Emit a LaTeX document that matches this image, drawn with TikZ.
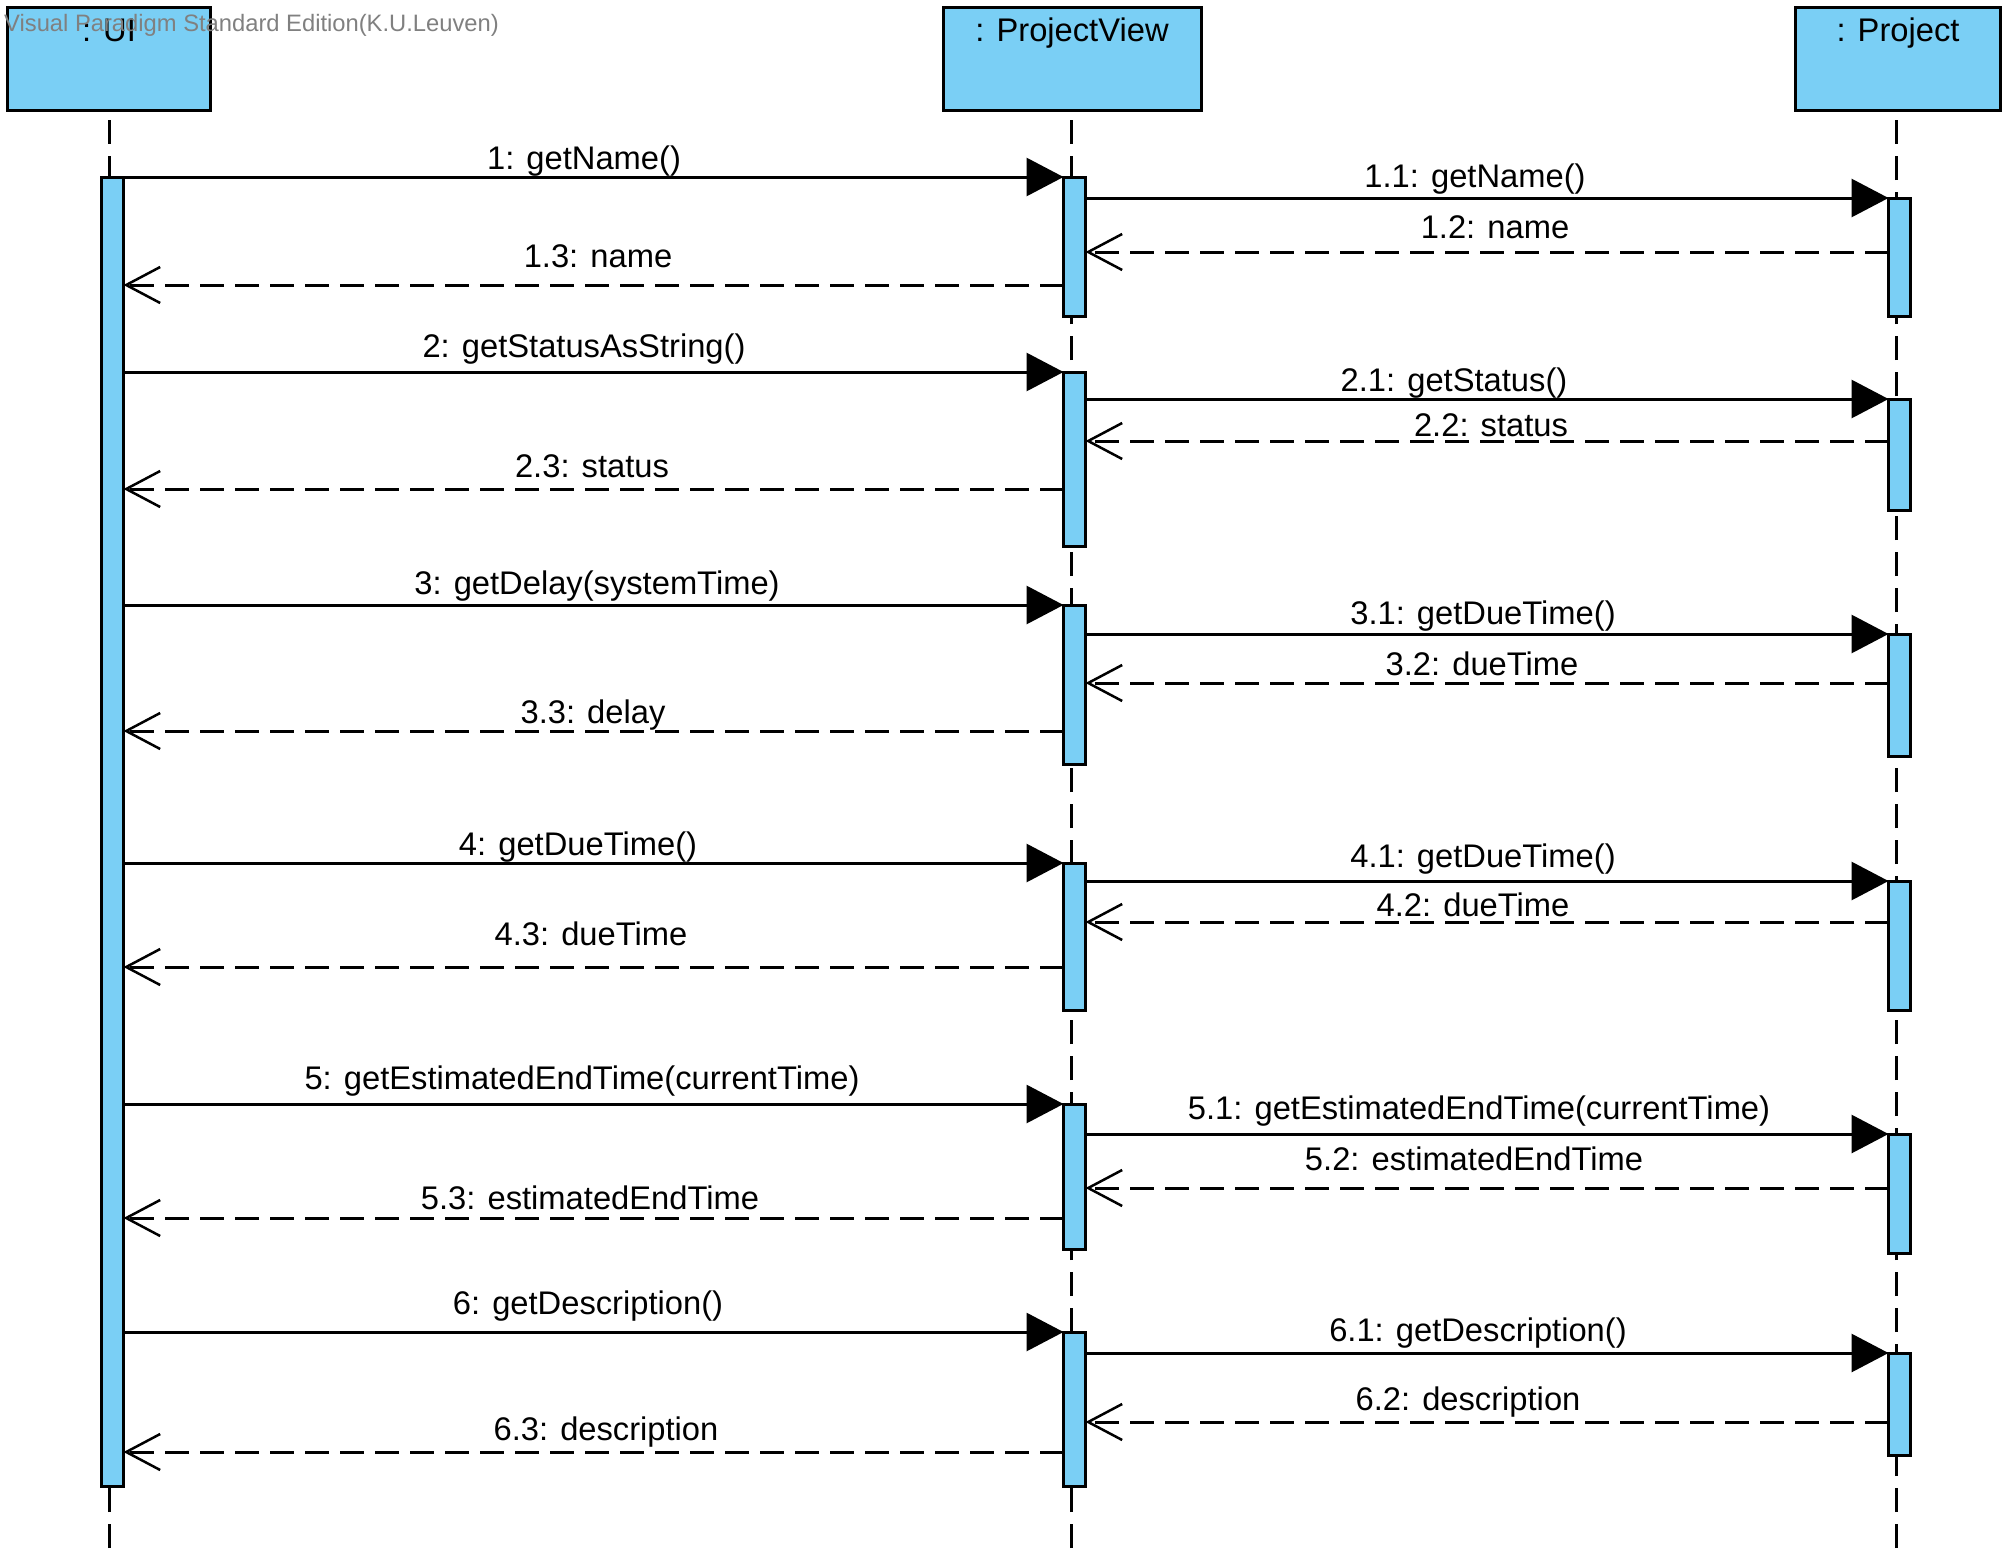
\documentclass[tikz,border=0pt]{standalone}
\usepackage{fontspec}
\setmainfont{Liberation Sans}
\usetikzlibrary{arrows.meta}
\definecolor{actfill}{RGB}{122,207,245}
\definecolor{wmgray}{RGB}{128,128,128}
% activation bar: name, lifeline x, top y, bottom y
\newcommand\actbar[4]{\node[actbox,minimum height=#4-#3] (#1) at (#2-7.5,#3) {};}
\begin{document}
\begin{tikzpicture}[x=1pt,y=-1pt,
  font=\fontsize{32.7}{39}\selectfont,
  headbox/.style={draw=black,line width=3pt,fill=actfill,inner sep=0pt,outer sep=0pt,anchor=north west},
  actbox/.style={draw=black,line width=3pt,fill=actfill,inner sep=0pt,outer sep=0pt,anchor=north west,minimum width=22pt},
  lifeline/.style={line width=3pt,dash pattern=on 24pt off 12pt},
  call/.style={line width=3pt,-{Triangle[length=37pt,width=38pt]}},
  reply/.style={line width=3pt,dash pattern=on 24pt off 11pt,-{Straight Barb[length=34pt,width=36pt,line width=2.5pt]}},
  msglabel/.style={anchor=base,inner sep=0pt},
  headlabel/.style={anchor=base,inner sep=0pt}]
\useasboundingbox (0,0) rectangle (2016,1560);

% object heads
\node[headbox,minimum width=203pt,minimum height=103pt] (hui) at (7.5,7.5) {};
\node[headbox,minimum width=258pt,minimum height=103pt] (hpv) at (943.5,7.5) {};
\node[headbox,minimum width=205pt,minimum height=103pt] (hpj) at (1795.5,7.5) {};
\node[headlabel] (tui) at (109,42) {: UI};
\node[headlabel] (tpv) at (1072,42) {: ProjectView};
\node[headlabel] (tpj) at (1898,42) {: Project};

% lifelines (drawn upwards so a dash closes each one at the bottom)
\coordinate (uiend) at (109,1548);
\coordinate (pvend) at (1071,1548);
\coordinate (pjend) at (1896,1548);
\draw[lifeline] (uiend) -- (hui.south -| uiend);
\draw[lifeline] (pvend) -- (hpv.south -| pvend);
\draw[lifeline] (pjend) -- (hpj.south -| pjend);

% activation bars
\actbar{ua}{109}{177}{1486.5}
\actbar{pv1}{1071}{177}{316.5}
\actbar{pv2}{1071}{372}{546.5}
\actbar{pv3}{1071}{605}{764.5}
\actbar{pv4}{1071}{863}{1010.5}
\actbar{pv5}{1071}{1104}{1249.5}
\actbar{pv6}{1071}{1332}{1486.5}
\actbar{pj1}{1896}{198}{316.5}
\actbar{pj2}{1896}{399}{510.5}
\actbar{pj3}{1896}{634}{756.5}
\actbar{pj4}{1896}{881}{1010.5}
\actbar{pj5}{1896}{1134}{1253.5}
\actbar{pj6}{1896}{1353}{1455.5}

% reply levels
\coordinate (r12) at (0,252);  \coordinate (r13) at (0,285);
\coordinate (r22) at (0,441);  \coordinate (r23) at (0,489);
\coordinate (r32) at (0,683);  \coordinate (r33) at (0,731);
\coordinate (r42) at (0,922);  \coordinate (r43) at (0,967);
\coordinate (r52) at (0,1188); \coordinate (r53) at (0,1218);
\coordinate (r62) at (0,1422); \coordinate (r63) at (0,1452);

% 1
\draw[call] (ua.east |- pv1.north) -- (pv1.north west);
\draw[call] (pv1.east |- pj1.north) -- (pj1.north west);
\draw[reply] (pj1.west |- r12) -- (pv1.east |- r12);
\draw[reply] (pv1.west |- r13) -- (ua.east |- r13);
% 2
\draw[call] (ua.east |- pv2.north) -- (pv2.north west);
\draw[call] (pv2.east |- pj2.north) -- (pj2.north west);
\draw[reply] (pj2.west |- r22) -- (pv2.east |- r22);
\draw[reply] (pv2.west |- r23) -- (ua.east |- r23);
% 3
\draw[call] (ua.east |- pv3.north) -- (pv3.north west);
\draw[call] (pv3.east |- pj3.north) -- (pj3.north west);
\draw[reply] (pj3.west |- r32) -- (pv3.east |- r32);
\draw[reply] (pv3.west |- r33) -- (ua.east |- r33);
% 4
\draw[call] (ua.east |- pv4.north) -- (pv4.north west);
\draw[call] (pv4.east |- pj4.north) -- (pj4.north west);
\draw[reply] (pj4.west |- r42) -- (pv4.east |- r42);
\draw[reply] (pv4.west |- r43) -- (ua.east |- r43);
% 5
\draw[call] (ua.east |- pv5.north) -- (pv5.north west);
\draw[call] (pv5.east |- pj5.north) -- (pj5.north west);
\draw[reply] (pj5.west |- r52) -- (pv5.east |- r52);
\draw[reply] (pv5.west |- r53) -- (ua.east |- r53);
% 6
\draw[call] (ua.east |- pv6.north) -- (pv6.north west);
\draw[call] (pv6.east |- pj6.north) -- (pj6.north west);
\draw[reply] (pj6.west |- r62) -- (pv6.east |- r62);
\draw[reply] (pv6.west |- r63) -- (ua.east |- r63);

% message labels
\node[msglabel] (l1)  at (584,169)  {1: getName()};
\node[msglabel] (l11) at (1475,187) {1.1: getName()};
\node[msglabel] (l12) at (1495,238) {1.2: name};
\node[msglabel] (l13) at (598,267)  {1.3: name};
\node[msglabel] (l2)  at (584,357)  {2: getStatusAsString()};
\node[msglabel] (l21) at (1454,391) {2.1: getStatus()};
\node[msglabel] (l22) at (1491,436) {2.2: status};
\node[msglabel] (l23) at (592,477)  {2.3: status};
\node[msglabel] (l3)  at (597,594)  {3: getDelay(systemTime)};
\node[msglabel] (l31) at (1483,624) {3.1: getDueTime()};
\node[msglabel] (l32) at (1482,675) {3.2: dueTime};
\node[msglabel] (l33) at (593,723)  {3.3: delay};
\node[msglabel] (l4)  at (578,855)  {4: getDueTime()};
\node[msglabel] (l41) at (1483,867) {4.1: getDueTime()};
\node[msglabel] (l42) at (1473,916) {4.2: dueTime};
\node[msglabel] (l43) at (591,945)  {4.3: dueTime};
\node[msglabel] (l5)  at (582,1089) {5: getEstimatedEndTime(currentTime)};
\node[msglabel] (l51) at (1479,1119) {5.1: getEstimatedEndTime(currentTime)};
\node[msglabel] (l52) at (1474,1170) {5.2: estimatedEndTime};
\node[msglabel] (l53) at (590,1209) {5.3: estimatedEndTime};
\node[msglabel] (l6)  at (588,1314) {6: getDescription()};
\node[msglabel] (l61) at (1478,1341) {6.1: getDescription()};
\node[msglabel] (l62) at (1468,1410) {6.2: description};
\node[msglabel] (l63) at (606,1440) {6.3: description};

% edition stamp
\node[anchor=base west,inner sep=0pt,text=wmgray,font=\fontsize{23.75}{28}\selectfont] (wm) at (4,32) {Visual Paradigm Standard Edition(K.U.Leuven)};
\end{tikzpicture}
\end{document}
